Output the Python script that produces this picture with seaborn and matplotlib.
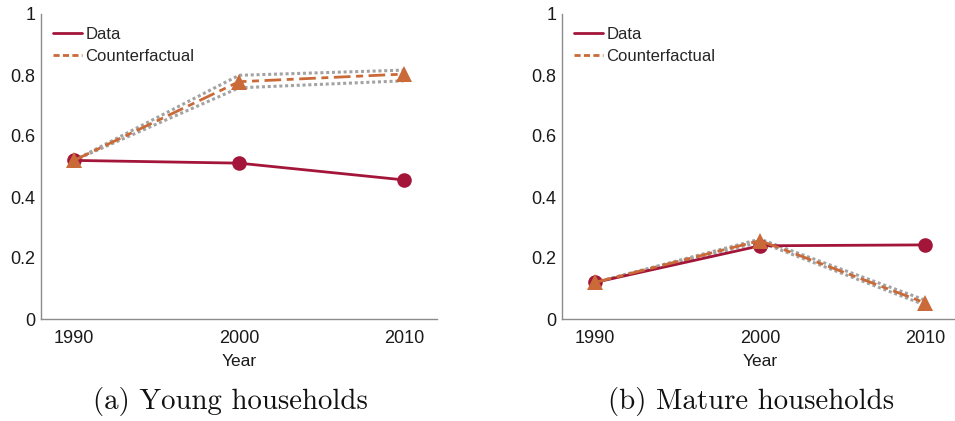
import matplotlib
matplotlib.use("Agg")
import matplotlib.pyplot as plt
from matplotlib.lines import Line2D
import seaborn as sns
import pandas as pd

years = [1990, 2000, 2010]

young_data = [0.520, 0.511, 0.456]
young_cf = [0.520, 0.778, 0.803]
young_cf_hi = [0.520, 0.799, 0.816]
young_cf_lo = [0.520, 0.758, 0.781]

mature_data = [0.120, 0.240, 0.243]
mature_cf = [0.120, 0.257, 0.053]
mature_cf_hi = [0.120, 0.262, 0.062]
mature_cf_lo = [0.120, 0.252, 0.046]

panel_titles = ["(a) Young households", "(b) Mature households"]
y_ticks = [0, 0.2, 0.4, 0.6, 0.8, 1]
y_tick_labels = ["0", "0.2", "0.4", "0.6", "0.8", "1"]

RED = "#A3163A"
ORANGE = "#C96A38"
GRAY = "#A3A3A3"
SPINE = "#8C8C8C"

sns.set_theme(style="white")
plt.rcParams["font.family"] = ["Liberation Sans", "DejaVu Sans"]

W, H = 955, 421
fig = plt.figure(figsize=(W / 100, H / 100), dpi=100)


def px_axes(left, right, top, bottom):
    return fig.add_axes([left / W, 1 - bottom / H, (right - left) / W, (bottom - top) / H])


def draw_panel(ax, data, cf, hi, lo):
    df = pd.DataFrame({"year": years, "data": data, "cf": cf, "hi": hi, "lo": lo})
    for col in ["hi", "lo"]:
        sns.lineplot(data=df, x="year", y=col, ax=ax, color=GRAY, lw=2.2,
                     linestyle=(0, (1.0, 0.9)), zorder=2)
    sns.lineplot(data=df, x="year", y="data", ax=ax, color=RED, lw=2.0,
                 marker="o", markersize=10.5, markeredgewidth=0,
                 markerfacecolor=RED, zorder=3)
    sns.lineplot(data=df, x="year", y="cf", ax=ax, color=ORANGE, lw=2.0,
                 linestyle=(0, (6, 2, 2.5, 2)), marker="^", markersize=11.5,
                 markeredgewidth=0, markerfacecolor=ORANGE, zorder=4)

    ax.set_xlim(1988, 2012)
    ax.set_ylim(0, 1)
    ax.set_xticks(years)
    ax.set_xticklabels([str(y) for y in years])
    ax.set_yticks(y_ticks)
    ax.set_yticklabels(y_tick_labels)
    ax.set_xlabel("Year", fontsize=12.5, color="#1a1a1a", labelpad=5)
    ax.set_ylabel("")
    for s in ["top", "right"]:
        ax.spines[s].set_visible(False)
    for s in ["left", "bottom"]:
        ax.spines[s].set_color(SPINE)
        ax.spines[s].set_linewidth(1.0)
    ax.tick_params(axis="both", direction="in", length=4, width=0.8,
                   color=SPINE, labelsize=13, labelcolor="#1a1a1a")
    ax.tick_params(axis="x", pad=8)
    ax.tick_params(axis="y", pad=4)

    handles = [
        Line2D([], [], color=RED, lw=2.0),
        Line2D([], [], color=ORANGE, lw=2.0, linestyle=(0, (2.2, 1.2))),
    ]
    ax.legend(handles, ["Data", "Counterfactual"], loc="upper left",
              bbox_to_anchor=(0.0, 0.995), frameon=False, fontsize=12,
              handlelength=1.75, handletextpad=0.2, labelspacing=0.42,
              borderaxespad=0.3)


ax1 = px_axes(41, 437, 14, 319)
ax2 = px_axes(562, 958, 14, 319)
draw_panel(ax1, young_data, young_cf, young_cf_hi, young_cf_lo)
draw_panel(ax2, mature_data, mature_cf, mature_cf_hi, mature_cf_lo)

fig.text(230 / W, 1 - 402 / H, panel_titles[0], family="cmr10", fontsize=20.8,
         ha="center", va="center", color="#111111")
fig.text(751 / W, 1 - 402 / H, panel_titles[1], family="cmr10", fontsize=20.8,
         ha="center", va="center", color="#111111")

fig.savefig("out.png", dpi=100)
